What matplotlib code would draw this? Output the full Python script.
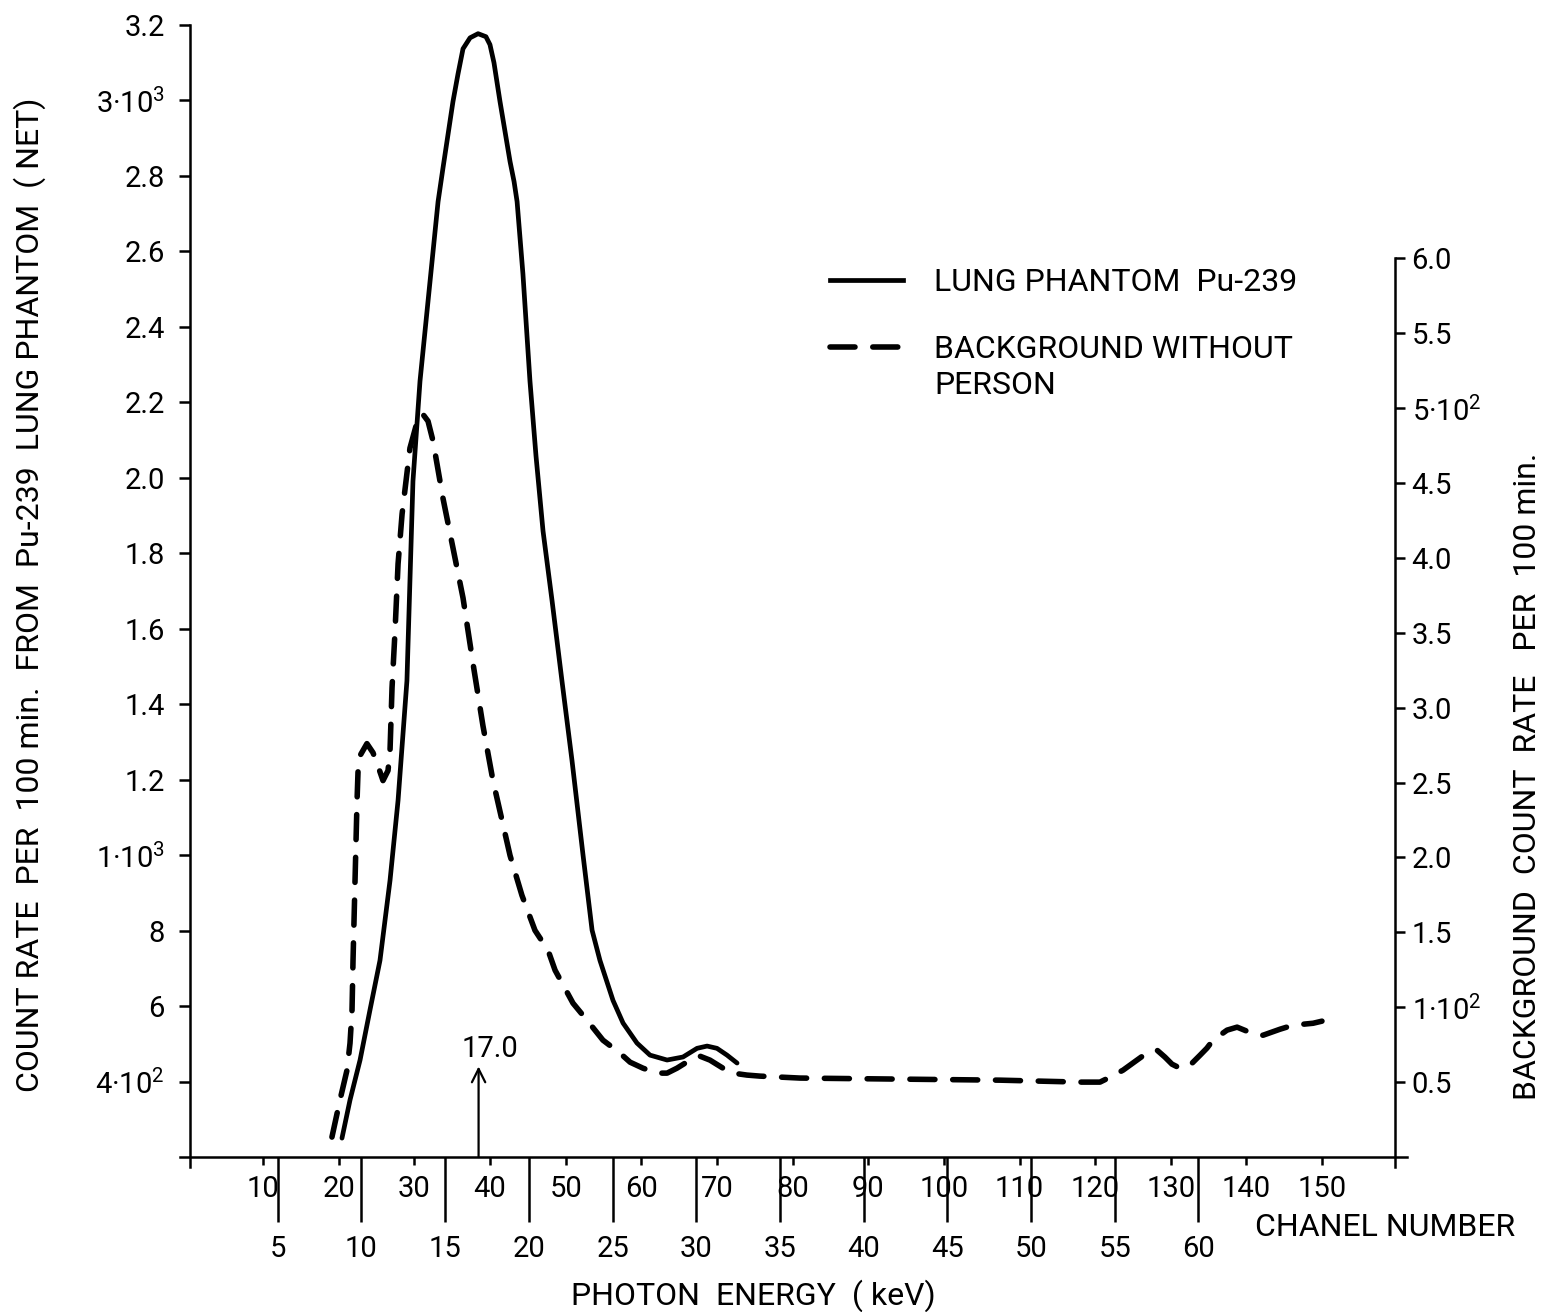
import matplotlib.pyplot as plt
import numpy as np
from matplotlib.ticker import FixedLocator, FixedFormatter
from matplotlib.lines import Line2D

plt.rcParams['font.family'] = ['Roboto', 'DejaVu Sans']
plt.rcParams['mathtext.fontset'] = 'custom'
plt.rcParams['mathtext.rm'] = 'Roboto'
plt.rcParams['mathtext.it'] = 'Roboto'
plt.rcParams['mathtext.default'] = 'regular'

# lung phantom Pu-239, net count rate (x 10^3 per 100 min) vs photon energy (keV)
phantom_kev = [8.84, 9.32, 9.92, 10.51, 11.11, 11.71, 12.19, 12.72, 12.90, 13.08,
               13.50, 13.98, 14.58, 14.87, 15.47, 15.77, 16.07, 16.49, 16.97, 17.44,
               17.68, 17.92, 18.28, 18.88, 19.12, 19.30, 19.65, 20.07, 20.43, 20.85,
               21.39, 21.98, 22.58, 23.24, 23.78, 24.25, 25.03, 25.63, 26.46, 27.24,
               28.26, 29.21, 30.05, 30.65, 31.24, 31.84, 32.44]
phantom_rate = [0.250, 0.351, 0.457, 0.589, 0.721, 0.933, 1.145, 1.462, 1.727, 1.991,
                2.256, 2.468, 2.732, 2.820, 2.997, 3.070, 3.137, 3.166, 3.177, 3.169,
                3.148, 3.100, 2.997, 2.838, 2.785, 2.732, 2.540, 2.256, 2.058, 1.859,
                1.674, 1.462, 1.251, 1.000, 0.801, 0.721, 0.615, 0.555, 0.502, 0.470,
                0.457, 0.465, 0.488, 0.494, 0.488, 0.470, 0.449]

# background without person (x 10^2 per 100 min)
bg_kev = [8.24, 8.72, 9.14, 9.32, 9.44, 9.50, 9.62, 9.74, 9.80, 9.92,
          10.33, 10.69, 10.93, 11.29, 11.59, 11.71, 11.83, 12.01, 12.19, 12.43,
          12.90, 13.26, 13.62, 13.98, 14.28, 14.87, 15.47, 16.07, 16.67, 17.26,
          17.86, 18.88, 19.59, 20.37, 21.15, 21.57, 22.64, 23.48, 24.43, 25.45,
          26.05, 26.82, 27.66, 28.26, 28.85, 29.63, 30.23, 30.82, 31.60, 32.20,
          33.03, 33.81, 36.20, 42.17, 48.15, 52.93, 54.12, 54.72, 55.50, 56.33,
          56.99, 57.53, 58.00, 58.42, 58.90, 59.50, 60.10, 60.51, 60.87, 61.71,
          62.31, 62.90, 63.26, 63.86, 64.87, 65.65, 66.85, 67.38]
bg_rate = [0.133, 0.38, 0.58, 0.76, 0.98, 1.313, 1.847, 2.38, 2.58, 2.68,
           2.76, 2.70, 2.63, 2.513, 2.58, 2.713, 3.133, 3.513, 3.96, 4.293,
           4.733, 4.88, 4.967, 4.913, 4.78, 4.40, 4.067, 3.733, 3.293, 2.88,
           2.513, 2.013, 1.747, 1.513, 1.38, 1.247, 1.027, 0.913, 0.78, 0.693,
           0.633, 0.593, 0.56, 0.56, 0.593, 0.647, 0.673, 0.647, 0.593, 0.56,
           0.547, 0.54, 0.527, 0.52, 0.513, 0.50, 0.50, 0.533, 0.58, 0.647,
           0.70, 0.713, 0.667, 0.62, 0.593, 0.613, 0.68, 0.727, 0.78, 0.847,
           0.867, 0.84, 0.82, 0.813, 0.853, 0.88, 0.893, 0.907]

energy_ticks = [5, 10, 15, 20, 25, 30, 35, 40, 45, 50, 55, 60]
channel_ticks = [10, 20, 30, 40, 50, 60, 70, 80, 90, 100, 110, 120, 130, 140, 150]
left_ticks = [0.4, 0.6, 0.8, 1.0, 1.2, 1.4, 1.6, 1.8, 2.0, 2.2, 2.4, 2.6, 2.8, 3.0, 3.2]
left_labels = ['$4·10^2$', '6', '8', '$1·10^3$', '1.2', '1.4', '1.6', '1.8', '2.0',
               '2.2', '2.4', '2.6', '2.8', '$3·10^3$', '3.2']
right_ticks = [0.5, 1.0, 1.5, 2.0, 2.5, 3.0, 3.5, 4.0, 4.5, 5.0, 5.5, 6.0]
right_labels = ['0.5', '$1·10^2$', '1.5', '2.0', '2.5', '3.0', '3.5', '4.0', '4.5',
                '$5·10^2$', '5.5', '6.0']


def chan_to_kev(c):
    return 0.4519 * np.asarray(c) - 0.394


W, H = 1549, 1312
FS = 21     # tick labels
LFS = 23    # axis titles / legend
fig = plt.figure(figsize=(W / 100, H / 100), dpi=100)
ax1 = fig.add_axes([180 / W, (H - 1167) / H, 1227 / W, 1142 / H])

xlim = (-0.836, 72.46)
ylim1 = (0.1735, 3.2)
k = 377.9 / 150.0
ylim2 = ((ylim1[0] - 0.2) * k, (ylim1[1] - 0.2) * k)

ax1.plot(phantom_kev, phantom_rate, color='k', lw=3.4,
         solid_capstyle='round', solid_joinstyle='round')
ax1.set_xlim(*xlim)
ax1.set_ylim(*ylim1)

for s in ['top', 'right']:
    ax1.spines[s].set_visible(False)
ax1.spines['left'].set_position(('data', -0.24))
ax1.spines['left'].set_bounds(ylim1[0], 3.2)
ax1.spines['bottom'].set_position(('data', 0.2))
for s in ['left', 'bottom']:
    ax1.spines[s].set_linewidth(1.8)

ax1.set_yticks(left_ticks)
ax1.set_yticklabels(left_labels)
ax1.tick_params(axis='y', direction='out', length=8, width=1.8, pad=10, labelsize=FS)

ax1.xaxis.set_major_locator(FixedLocator(energy_ticks))
ax1.xaxis.set_major_formatter(FixedFormatter([str(e) for e in energy_ticks]))
ax1.xaxis.set_minor_locator(FixedLocator(chan_to_kev(channel_ticks)))
ax1.xaxis.set_minor_formatter(FixedFormatter([str(c) for c in channel_ticks]))
ax1.xaxis.remove_overlapping_locs = False
ax1.tick_params(axis='x', which='major', direction='out', length=47, width=1.8,
                pad=9, labelsize=FS)
ax1.tick_params(axis='x', which='minor', direction='out', length=6, width=1.8,
                pad=7, labelsize=FS)

ax2 = ax1.twinx()
ax2.plot(bg_kev, bg_rate, color='k', lw=4, linestyle=(0, (4.5, 3.2)),
         dash_capstyle='round', dash_joinstyle='round')
ax2.set_ylim(*ylim2)
for s in ['top', 'left', 'bottom']:
    ax2.spines[s].set_visible(False)
ax2.spines['right'].set_position(('data', 71.74))
ax2.spines['right'].set_bounds(ylim2[0], 6.0)
ax2.spines['right'].set_linewidth(1.8)
ax2.set_yticks(right_ticks)
ax2.set_yticklabels(right_labels)
ax2.tick_params(axis='y', direction='out', length=7, width=1.8, pad=5, labelsize=FS)

# 17.0 keV marker
ax1.annotate('', xy=(17.0, 0.44), xytext=(17.0, 0.2),
             arrowprops=dict(arrowstyle='->', lw=1.6, color='k', mutation_scale=24,
                             shrinkA=0, shrinkB=0))
ax1.text(17.7, 0.45, '17.0', ha='center', va='bottom', fontsize=FS)

handles = [Line2D([], [], color='k', lw=3.4),
           Line2D([], [], color='k', lw=4, linestyle=(0, (4.5, 3.2)), dash_capstyle='round')]
ax2.legend(handles, ['LUNG PHANTOM  Pu-239', 'BACKGROUND WITHOUT'],
           loc='upper left', bbox_to_anchor=(830 / W, 1 - 268 / H),
           bbox_transform=fig.transFigure, frameon=False, fontsize=LFS,
           handlelength=2.3, handletextpad=0.95, labelspacing=1.2,
           borderpad=0, borderaxespad=0)
fig.text(934 / W, 1 - 385 / H, 'PERSON', ha='left', va='center', fontsize=LFS)

fig.text(30 / W, 1 - 595 / H, 'COUNT RATE  PER  100 min.  FROM  Pu-239  LUNG PHANTOM  ( NET)',
         rotation=90, ha='center', va='center', fontsize=LFS)
fig.text(1527 / W, 1 - 776 / H, 'BACKGROUND  COUNT  RATE   PER  100 min.',
         rotation=90, ha='center', va='center', fontsize=LFS)
fig.text(753 / W, 1 - 1296 / H, 'PHOTON  ENERGY  ( keV)', ha='center', va='center', fontsize=LFS)
fig.text(1255 / W, 1 - 1228 / H, 'CHANEL NUMBER', ha='left', va='center', fontsize=LFS)

fig.savefig('out.png', dpi=100)
